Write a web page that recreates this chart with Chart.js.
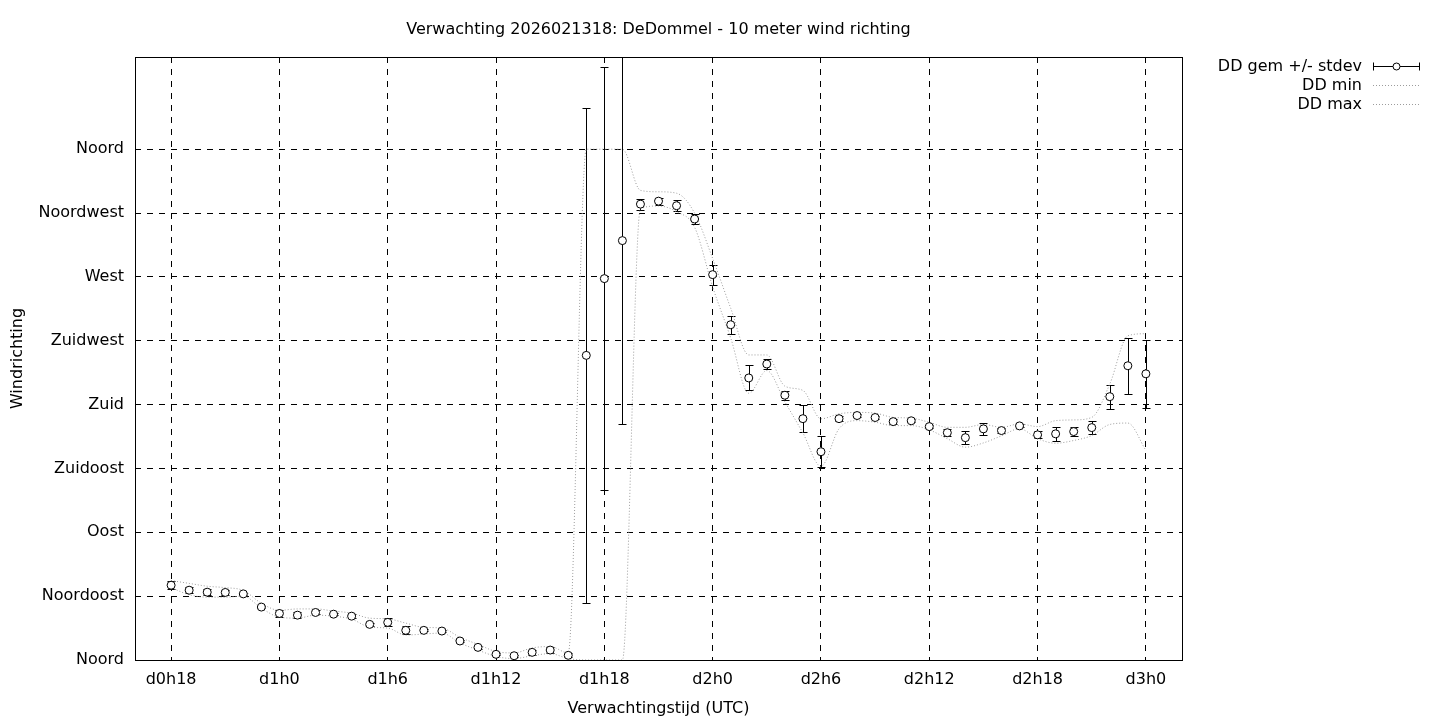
<!DOCTYPE html>
<html>
<head>
<meta charset="utf-8">
<script src="https://cdn.jsdelivr.net/npm/chart.js@4/dist/chart.umd.min.js"></script>
<style>
  html, body { margin: 0; padding: 0; background: #fff; }
  #wrap { width: 1440px; height: 720px; position: relative; }
</style>
</head>
<body>
<div id="wrap"><canvas id="chart" width="1440" height="720"></canvas></div>
<script>
// ---------- Data ----------
const title = "Verwachting 2026021318: DeDommel - 10 meter wind richting";

const hours = [18, 19, 20, 21, 22, 23, 24, 25, 26, 27, 28, 29, 30, 31, 32, 33, 34, 35, 36, 37,
  38, 39, 40, 41, 42, 43, 44, 45, 46, 47, 48, 49, 50, 51, 52, 53, 54, 55, 56, 57,
  58, 59, 60, 61, 62, 63, 64, 65, 66, 67, 68, 69, 70, 71, 72];

const ddMean = [52.7, 49.2, 47.8, 47.6, 46.6, 37.3, 32.8, 31.6, 33.5, 32.3, 30.9, 25.1, 26.5, 20.9, 20.9, 20.4, 13.4, 8.9, 4.0, 3.0,
  5.4, 7.0, 3.3, 214.7, 268.8, 295.6, 321.3, 323.4, 320.2, 310.8, 271.6, 236.3, 198.8, 208.6, 186.6, 170.1, 146.8, 170.1, 172.3, 170.9,
  168.0, 168.6, 164.5, 160.2, 156.7, 162.9, 161.7, 165.0, 158.7, 159.4, 161.0, 163.8, 185.6, 207.4, 201.7];

const ddStdev = [2.8, 2.0, 2.0, 1.8, 0.8, 0.8, 2.2, 2.2, 1.4, 0.8, 1.4, 0.8, 2.8, 2.8, 0.8, 0.8, 0.8, 0.8, 0.8, 0.8,
  2.0, 2.0, 1.5, 174.4, 149.0, 129.5, 3.8, 2.5, 3.9, 3.2, 7.0, 6.3, 8.8, 3.4, 3.0, 9.5, 11.0, 2.0, 1.0, 1.2,
  2.0, 1.0, 1.2, 2.3, 4.7, 4.1, 1.8, 1.0, 2.5, 4.7, 3.0, 4.3, 8.4, 19.6, 23.9];

const ddMin = [51, 46, 44.3, 44.3, 45, 36.5, 30.2, 29.5, 31.6, 30.9, 28.8, 23.2, 22.5, 17.6, 18.3, 19, 12, 7, 2.5, 1,
  3, 4.5, 1, 0, 0, 0, 318, 320, 316, 305, 263, 227, 188, 204, 182, 160, 136.5, 163, 168.7, 167.6,
  165.2, 165.2, 162.2, 156, 150, 153, 158, 163, 156, 152.8, 154.7, 158.2, 166, 167, 147.7];

const ddMax = [56, 54, 52, 51, 49, 40, 35, 36, 36, 34.5, 33, 29.5, 29, 26, 23, 22.5, 16, 11, 6, 5,
  8.5, 9.5, 5, 360, 360, 360, 331, 330, 329, 315, 283, 248, 215, 215, 193, 190, 170, 173.5, 174.5, 174,
  171, 170.5, 167.5, 164, 164, 166, 164, 166.4, 164.5, 168.7, 169.2, 171, 194.5, 228.5, 230];

const xTickValues = [18, 24, 30, 36, 42, 48, 54, 60, 66, 72];
const xTickLabels = ["d0h18", "d1h0", "d1h6", "d1h12", "d1h18", "d2h0", "d2h6", "d2h12", "d2h18", "d3h0"];

const yTickValues = [0, 45, 90, 135, 180, 225, 270, 315, 360];
const yTickLabels = ["Noord", "Noordoost", "Oost", "Zuidoost", "Zuid", "Zuidwest", "West", "Noordwest", "Noord"];

// ---------- Style ----------
const FONT = "DejaVu Sans";
const FONT_SIZE = 16;
const DOT_COLOR = "#9c9c9c";
const GRID_DASH = [6, 6];

const pts = arr => hours.map((h, i) => ({ x: h, y: arr[i] }));

// ---------- Plugins ----------
const errorBars = {
  id: "errorBars",
  beforeDatasetsDraw(chart) {
    const { ctx, chartArea: a, scales: { x, y } } = chart;
    ctx.save();
    ctx.beginPath();
    ctx.rect(a.left, a.top, a.right - a.left, a.bottom - a.top);
    ctx.clip();
    ctx.strokeStyle = "#000";
    ctx.lineWidth = 1;
    hours.forEach((h, i) => {
      const px = Math.round(x.getPixelForValue(h)) + 0.5;
      const top = Math.round(y.getPixelForValue(ddMean[i] + ddStdev[i])) + 0.5;
      const bot = Math.round(y.getPixelForValue(ddMean[i] - ddStdev[i])) + 0.5;
      ctx.beginPath();
      ctx.moveTo(px, top); ctx.lineTo(px, bot);
      ctx.moveTo(px - 4, top); ctx.lineTo(px + 4, top);
      ctx.moveTo(px - 4, bot); ctx.lineTo(px + 4, bot);
      ctx.stroke();
    });
    ctx.restore();
  }
};

const frame = {
  id: "frame",
  afterDraw(chart) {
    const { ctx, chartArea: a } = chart;
    ctx.save();
    ctx.strokeStyle = "#000";
    ctx.lineWidth = 1;
    ctx.setLineDash([]);
    ctx.strokeRect(Math.round(a.left) + 0.5, Math.round(a.top) + 0.5,
      Math.round(a.right - a.left), Math.round(a.bottom - a.top));

    // title
    ctx.fillStyle = "#000";
    ctx.font = `${FONT_SIZE}px "${FONT}"`;
    ctx.textAlign = "center";
    ctx.textBaseline = "middle";
    ctx.fillText(title, (a.left + a.right) / 2, 30);

    // legend
    ctx.textAlign = "right";
    const rows = ["DD gem +/- stdev", "DD min", "DD max"];
    const ys = [66, 85, 104];
    rows.forEach((t, i) => ctx.fillText(t, 1362, ys[i] + 1));
    const x0 = 1373, x1 = 1420;
    let yy = ys[0] + 0.5;
    ctx.beginPath();
    ctx.moveTo(x0, yy); ctx.lineTo(x1, yy);
    ctx.moveTo(x0 + 0.5, yy - 4); ctx.lineTo(x0 + 0.5, yy + 4);
    ctx.moveTo(x1 - 0.5, yy - 4); ctx.lineTo(x1 - 0.5, yy + 4);
    ctx.stroke();
    ctx.beginPath();
    ctx.arc(1396.5, yy, 3.5, 0, Math.PI * 2);
    ctx.fillStyle = "#fff";
    ctx.fill();
    ctx.stroke();
    ctx.strokeStyle = DOT_COLOR;
    ctx.setLineDash([1, 2]);
    [ys[1], ys[2]].forEach(v => {
      ctx.beginPath();
      ctx.moveTo(x0, v + 0.5); ctx.lineTo(x1, v + 0.5);
      ctx.stroke();
    });
    ctx.restore();
  }
};

// ---------- Chart ----------
const dotted = {
  showLine: true,
  pointRadius: 0,
  borderColor: DOT_COLOR,
  borderWidth: 1,
  borderDash: [1, 2],
  cubicInterpolationMode: "monotone",
  fill: false,
  order: 2
};

const tickFont = { family: FONT, size: FONT_SIZE };

new Chart(document.getElementById("chart"), {
  type: "scatter",
  data: {
    datasets: [
      {
        label: "DD gem +/- stdev",
        data: pts(ddMean),
        pointRadius: 4,
        pointHoverRadius: 4,
        pointBorderWidth: 1,
        pointBorderColor: "#000",
        pointBackgroundColor: "#fff",
        showLine: false,
        order: 0
      },
      { label: "DD min", data: pts(ddMin), ...dotted },
      { label: "DD max", data: pts(ddMax), ...dotted }
    ]
  },
  options: {
    responsive: false,
    animation: false,
    layout: { padding: { top: 57, right: 258, left: 0, bottom: 0 } },
    plugins: { legend: { display: false }, tooltip: { enabled: false }, title: { display: false } },
    scales: {
      x: {
        type: "linear",
        min: 16,
        max: 74,
        afterFit(s) { s.height = 60; },
        afterBuildTicks(s) { s.ticks = xTickValues.map(v => ({ value: v })); },
        ticks: {
          autoSkip: false,
          maxRotation: 0,
          padding: 10,
          color: "#000",
          font: tickFont,
          callback: (v) => xTickLabels[xTickValues.indexOf(v)]
        },
        grid: { color: "#000", lineWidth: 1, drawTicks: false },
        border: { display: false, dash: GRID_DASH },
        title: {
          display: true,
          text: "Verwachtingstijd (UTC)",
          color: "#000",
          font: tickFont,
          padding: { top: 4, bottom: 2 }
        }
      },
      y: {
        type: "linear",
        min: 0,
        max: 425,
        afterFit(s) { s.width = 135; },
        afterBuildTicks(s) { s.ticks = yTickValues.map(v => ({ value: v })); },
        ticks: {
          autoSkip: false,
          padding: 11,
          color: "#000",
          font: tickFont,
          callback: (v) => yTickLabels[yTickValues.indexOf(v)]
        },
        grid: { color: "#000", lineWidth: 1, drawTicks: false },
        border: { display: false, dash: GRID_DASH },
        title: {
          display: true,
          text: "Windrichting",
          color: "#000",
          font: tickFont,
          padding: { top: 8, bottom: 0 }
        }
      }
    }
  },
  plugins: [errorBars, frame]
});
</script>
</body>
</html>
